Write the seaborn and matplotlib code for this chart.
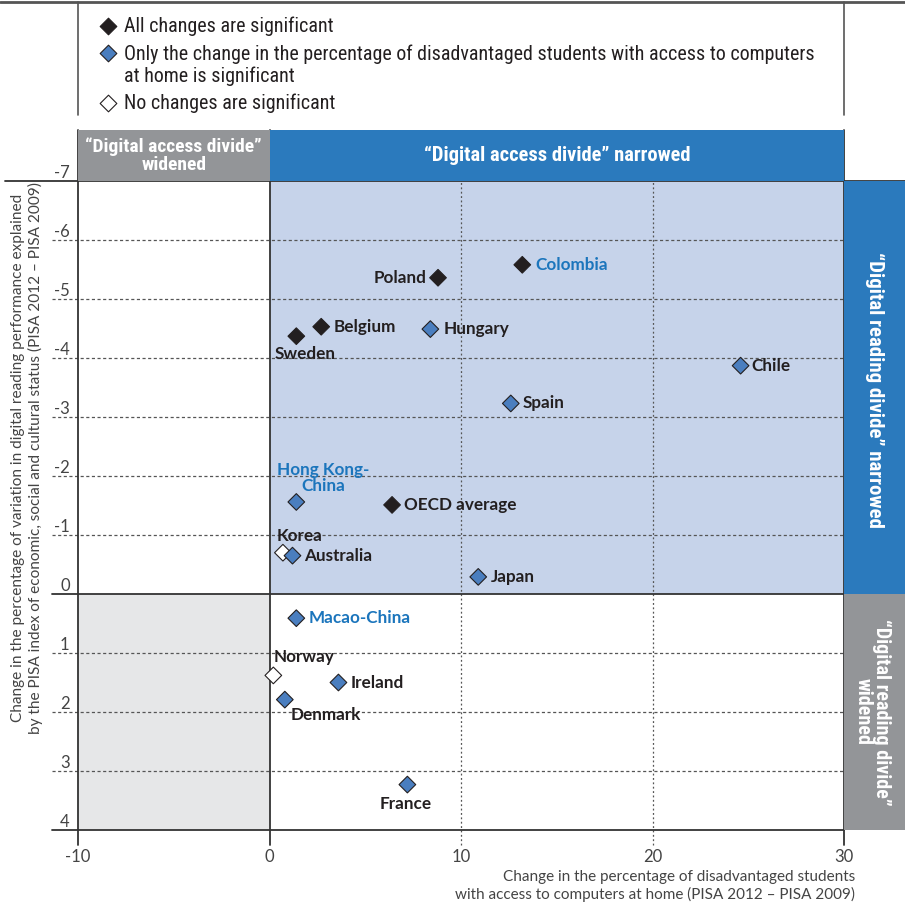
import matplotlib
matplotlib.use("Agg")
import matplotlib.pyplot as plt
from matplotlib import font_manager
import pandas as pd
import seaborn as sns

# --- data ---
countries = ["Poland", "Colombia", "Belgium", "Sweden", "Hungary", "Chile", "Spain",
             "Hong Kong-\nChina", "OECD average", "Korea", "Australia", "Japan",
             "Macao-China", "Norway", "Ireland", "Denmark", "France"]
access_change = [8.8, 13.2, 2.7, 1.4, 8.4, 24.6, 12.6, 1.4, 6.4, 0.7, 1.2, 10.9,
                 1.4, 0.2, 3.6, 0.8, 7.2]
reading_change = [-5.36, -5.58, -4.53, -4.37, -4.49, -3.87, -3.23, -1.56, -1.51, -0.70,
                  -0.65, -0.29, 0.41, 1.38, 1.50, 1.79, 3.23]
significance = ["all", "all", "all", "all", "access", "access", "access", "access", "all",
                "none", "access", "access", "access", "none", "access", "access", "access"]
blue_labels = ["Colombia", "Hong Kong-\nChina", "Macao-China"]

x_ticks = [-10, 0, 10, 20, 30]
y_ticks = [-7, -6, -5, -4, -3, -2, -1, 0, 1, 2, 3, 4]

legend_labels = {
    "all": "All changes are significant",
    "access": "Only the change in the percentage of disadvantaged students with access to computers\nat home is significant",
    "none": "No changes are significant",
}

# --- style ---
sns.set_theme(style="white")
names = {f.name for f in font_manager.fontManager.ttflist}
narrow = next((n for n in ["Liberation Sans Narrow", "Roboto Condensed", "DejaVu Sans Condensed", "Lato"]
               if n in names), "DejaVu Sans")
label_font = "Lato" if "Lato" in names else "DejaVu Sans"
plt.rcParams['font.family'] = [label_font, 'DejaVu Sans']

DARK = "#231f20"
BLUE_MARK = "#4a7ebf"
BAND_BLUE = "#2b7abd"
BAND_GREY = "#939598"
QUAD_BLUE = "#c6d3ea"
QUAD_GREY = "#e6e7e8"
TXT_BLUE = "#1b75bc"
GRID = "#555555"

palette = {"all": DARK, "access": BLUE_MARK, "none": "white"}

W, H = 905, 906
fig = plt.figure(figsize=(W / 100, H / 100), dpi=100)


def fx(px):
    return px / W


def fy(py):
    return 1 - py / H


# pixel-space overlay for frame lines and the key
over = fig.add_axes([0, 0, 1, 1], zorder=-5)
over.set_xlim(0, W)
over.set_ylim(H, 0)
over.axis("off")

over.plot([0, W], [2, 2], color="#555555", lw=2)
over.plot([78, 78], [2, 115], color="#555555", lw=1.2)
over.plot([844, 844], [2, 115], color="#555555", lw=1.2)

key_rows = [("all", 26), ("access", 53), ("none", 103)]
for key, ky in key_rows:
    over.scatter([108], [ky], marker="D", s=72, color=palette[key], edgecolor=DARK, linewidth=0.8)
    if key == "access":
        over.text(124, ky - 9, legend_labels[key], ha="left", va="top",
                  fontsize=14.4, family=narrow, color=DARK, linespacing=1.2)
    else:
        over.text(124, ky, legend_labels[key], ha="left", va="center",
                  fontsize=14.4, family=narrow, color=DARK)

# --- main axes ---
ax = fig.add_axes([fx(78), fy(830), fx(844) - fx(78), fy(181) - fy(830)])
ax.set_xlim(x_ticks[0], x_ticks[-1])
ax.set_ylim(y_ticks[-1], y_ticks[0])
ax.set_facecolor("white")
for s in ax.spines.values():
    s.set_visible(False)

# quadrant shading
ax.fill_between([0, x_ticks[-1]], y_ticks[0], 0, color=QUAD_BLUE, lw=0, zorder=0)
ax.fill_between([x_ticks[0], 0], 0, y_ticks[-1], color=QUAD_GREY, lw=0, zorder=0)

ytr = ax.get_yaxis_transform()
xtr = ax.get_xaxis_transform()
for t in y_ticks:
    if t in (y_ticks[0], 0, y_ticks[-1]):
        x0 = -0.095 if t == y_ticks[0] else -0.034
        x1 = 1.08 if t == y_ticks[0] else 1
        ax.plot([x0, x1], [t, t], transform=ytr, color="#333333", lw=1.3, clip_on=False, zorder=3)
    else:
        ax.plot([-0.034, 1], [t, t], transform=ytr, color=GRID, lw=0.9, ls=(0, (2.5, 2)),
                clip_on=False, zorder=1)
for t in x_ticks:
    if t in (x_ticks[0], 0, x_ticks[-1]):
        ax.plot([t, t], [-0.023, 1.079], transform=xtr, color="#333333", lw=1.3, clip_on=False, zorder=3)
    else:
        ax.plot([t, t], [-0.023, 1.009], transform=xtr, color=GRID, lw=0.9, ls=(0, (1.5, 2)),
                clip_on=False, zorder=1)

df = pd.DataFrame({"country": countries, "access": access_change,
                   "reading": reading_change, "sig": significance})
sns.scatterplot(data=df, x="access", y="reading", hue="sig", palette=palette, marker="D",
                s=72, edgecolor=DARK, linewidth=0.8, legend=False, ax=ax, zorder=6)

# label placement: offset in pixels (dx, dy up) and alignment
place = {
    "Poland": (-12, 0, "right"), "Colombia": (13, 0, "left"), "Belgium": (12, 0, "left"),
    "Sweden": (-22, -18, "left"), "Hungary": (13, 0, "left"), "Chile": (11, 0, "left"),
    "Spain": (12, 0, "left"), "Hong Kong-\nChina": (27, 24, "center"),
    "OECD average": (12, 0, "left"), "Korea": (-6, 17, "left"), "Australia": (12, 0, "left"),
    "Japan": (13, 0, "left"), "Macao-China": (12, 0, "left"), "Norway": (0, 18, "left"),
    "Ireland": (12, 0, "left"), "Denmark": (6, -15, "left"), "France": (-2, -19, "center"),
}
for _, r in df.iterrows():
    dx, dy, ha = place[r["country"]]
    ax.annotate(r["country"], (r["access"], r["reading"]), xytext=(dx * 0.72, dy * 0.72),
                textcoords="offset points", ha=ha, va="center", fontsize=12.3, fontweight="bold",
                color=TXT_BLUE if r["country"] in blue_labels else DARK,
                linespacing=0.95, zorder=7)

ax.set_xticks(x_ticks)
ax.set_xticklabels([str(t) for t in x_ticks])
ax.set_yticks(y_ticks)
ax.set_yticklabels([str(t) for t in y_ticks])
ax.tick_params(axis="x", length=0, pad=14, labelsize=12, labelcolor="#444444")
ax.tick_params(axis="y", length=0, pad=6, labelsize=12, labelcolor="#444444")
for lab in ax.get_yticklabels():
    lab.set_verticalalignment("bottom")
ax.set_xlabel("")
ax.set_ylabel("")

fig.text(fx(855), fy(886),
         "Change in the percentage of disadvantaged students\nwith access to computers at home (PISA 2012 – PISA 2009)",
         ha="right", va="center", multialignment="right", fontsize=11, color="#444444", linespacing=1.25)
fig.text(fx(27), fy(458),
         "Change in the percentage of variation in digital reading performance explained\n"
         "by the PISA index of economic, social and cultural status (PISA 2012 – PISA 2009)",
         rotation=90, ha="center", va="center", fontsize=11.1, color="#444444", linespacing=1.3)

# --- header band ---
hax = fig.add_axes([fx(78), fy(181), fx(844) - fx(78), fy(130) - fy(181)])
hax.set_xlim(x_ticks[0], x_ticks[-1])
hax.set_ylim(0, 1)
hax.axis("off")
hax.axvspan(x_ticks[0], 0, color=BAND_GREY, lw=0)
hax.axvspan(0, x_ticks[-1], color=BAND_BLUE, lw=0)
hax.text(-5, 0.5, "“Digital access divide”\nwidened", ha="center", va="center", color="white",
         fontsize=14, fontweight="bold", family=narrow, linespacing=0.95)
hax.text(15, 0.5, "“Digital access divide” narrowed", ha="center", va="center", color="white",
         fontsize=14.8, fontweight="bold", family=narrow)

# --- right band ---
rax = fig.add_axes([fx(844), fy(830), fx(905) - fx(844), fy(181) - fy(830)])
rax.set_ylim(y_ticks[-1], y_ticks[0])
rax.set_xlim(0, 1)
rax.axis("off")
rax.axhspan(y_ticks[0], 0, color=BAND_BLUE, lw=0)
rax.axhspan(0, y_ticks[-1], color=BAND_GREY, lw=0)
rax.text(0.5, -3.45, "“Digital reading divide” narrowed", rotation=270, ha="center", va="center",
         color="white", fontsize=15, fontweight="bold", family=narrow)
rax.text(0.47, 2.0, "“Digital reading divide”\nwidened", rotation=270, ha="center", va="center",
         color="white", fontsize=14.5, fontweight="bold", family=narrow, linespacing=0.95)

fig.savefig("out.png", dpi=100)
